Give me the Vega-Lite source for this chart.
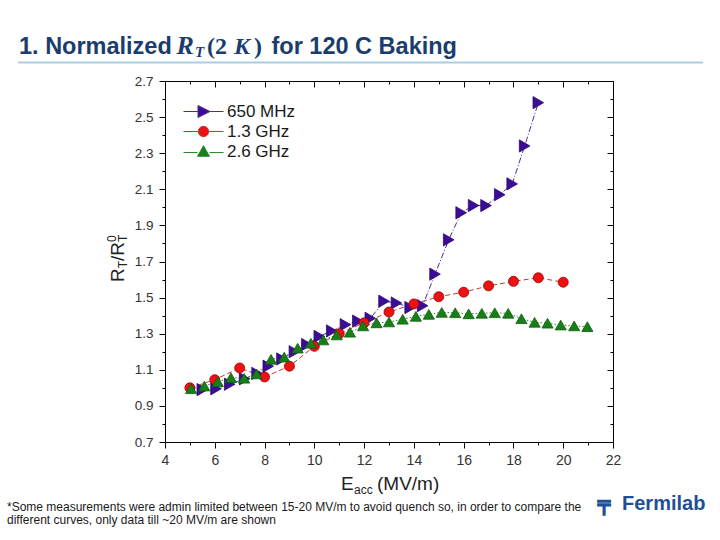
{
  "$schema": "https://vega.github.io/schema/vega-lite/v6.json",
  "width": 448,
  "height": 361,
  "autosize": {"type": "none"},
  "padding": {"left": 165, "top": 81, "right": 107, "bottom": 98},
  "background": "white",
  "config": {"view": {"stroke": null}, "font": "Liberation Sans"},
  "datasets": {
    "curves": [
      {"series": "650 MHz", "E": 5.5, "R": 0.99},
      {"series": "650 MHz", "E": 6.05, "R": 0.995},
      {"series": "650 MHz", "E": 6.6, "R": 1.02},
      {"series": "650 MHz", "E": 7.2, "R": 1.05},
      {"series": "650 MHz", "E": 7.7, "R": 1.08},
      {"series": "650 MHz", "E": 8.15, "R": 1.12},
      {"series": "650 MHz", "E": 8.7, "R": 1.16},
      {"series": "650 MHz", "E": 9.2, "R": 1.2},
      {"series": "650 MHz", "E": 9.7, "R": 1.24},
      {"series": "650 MHz", "E": 10.2, "R": 1.285},
      {"series": "650 MHz", "E": 10.7, "R": 1.315},
      {"series": "650 MHz", "E": 11.25, "R": 1.35},
      {"series": "650 MHz", "E": 11.75, "R": 1.37},
      {"series": "650 MHz", "E": 12.25, "R": 1.385},
      {"series": "650 MHz", "E": 12.8, "R": 1.48},
      {"series": "650 MHz", "E": 13.3, "R": 1.47},
      {"series": "650 MHz", "E": 13.85, "R": 1.445},
      {"series": "650 MHz", "E": 14.35, "R": 1.455},
      {"series": "650 MHz", "E": 14.85, "R": 1.63},
      {"series": "650 MHz", "E": 15.4, "R": 1.82},
      {"series": "650 MHz", "E": 15.9, "R": 1.97},
      {"series": "650 MHz", "E": 16.4, "R": 2.01},
      {"series": "650 MHz", "E": 16.9, "R": 2.01},
      {"series": "650 MHz", "E": 17.45, "R": 2.07},
      {"series": "650 MHz", "E": 17.95, "R": 2.13},
      {"series": "650 MHz", "E": 18.45, "R": 2.34},
      {"series": "650 MHz", "E": 19.0, "R": 2.58},
      {"series": "1.3 GHz", "E": 5, "R": 1.0},
      {"series": "1.3 GHz", "E": 6, "R": 1.045},
      {"series": "1.3 GHz", "E": 7, "R": 1.11},
      {"series": "1.3 GHz", "E": 8, "R": 1.06},
      {"series": "1.3 GHz", "E": 9, "R": 1.12},
      {"series": "1.3 GHz", "E": 10, "R": 1.23},
      {"series": "1.3 GHz", "E": 11, "R": 1.3},
      {"series": "1.3 GHz", "E": 12, "R": 1.36},
      {"series": "1.3 GHz", "E": 13, "R": 1.42},
      {"series": "1.3 GHz", "E": 14, "R": 1.465},
      {"series": "1.3 GHz", "E": 15, "R": 1.505},
      {"series": "1.3 GHz", "E": 16, "R": 1.53},
      {"series": "1.3 GHz", "E": 17, "R": 1.565},
      {"series": "1.3 GHz", "E": 18, "R": 1.59},
      {"series": "1.3 GHz", "E": 19, "R": 1.61},
      {"series": "1.3 GHz", "E": 20, "R": 1.585},
      {"series": "2.6 GHz", "E": 5.05, "R": 0.995},
      {"series": "2.6 GHz", "E": 5.58, "R": 1.01},
      {"series": "2.6 GHz", "E": 6.12, "R": 1.034},
      {"series": "2.6 GHz", "E": 6.65, "R": 1.056},
      {"series": "2.6 GHz", "E": 7.18, "R": 1.053},
      {"series": "2.6 GHz", "E": 7.68, "R": 1.077},
      {"series": "2.6 GHz", "E": 8.26, "R": 1.158},
      {"series": "2.6 GHz", "E": 8.79, "R": 1.17},
      {"series": "2.6 GHz", "E": 9.33, "R": 1.22},
      {"series": "2.6 GHz", "E": 9.86, "R": 1.247},
      {"series": "2.6 GHz", "E": 10.36, "R": 1.265},
      {"series": "2.6 GHz", "E": 10.9, "R": 1.293},
      {"series": "2.6 GHz", "E": 11.43, "R": 1.308},
      {"series": "2.6 GHz", "E": 11.96, "R": 1.343},
      {"series": "2.6 GHz", "E": 12.5, "R": 1.36},
      {"series": "2.6 GHz", "E": 13.0, "R": 1.365},
      {"series": "2.6 GHz", "E": 13.55, "R": 1.38},
      {"series": "2.6 GHz", "E": 14.08, "R": 1.396},
      {"series": "2.6 GHz", "E": 14.6, "R": 1.407},
      {"series": "2.6 GHz", "E": 15.12, "R": 1.418},
      {"series": "2.6 GHz", "E": 15.66, "R": 1.416},
      {"series": "2.6 GHz", "E": 16.2, "R": 1.41},
      {"series": "2.6 GHz", "E": 16.73, "R": 1.413},
      {"series": "2.6 GHz", "E": 17.25, "R": 1.416},
      {"series": "2.6 GHz", "E": 17.79, "R": 1.413},
      {"series": "2.6 GHz", "E": 18.32, "R": 1.383},
      {"series": "2.6 GHz", "E": 18.85, "R": 1.363},
      {"series": "2.6 GHz", "E": 19.37, "R": 1.358},
      {"series": "2.6 GHz", "E": 19.9, "R": 1.348},
      {"series": "2.6 GHz", "E": 20.44, "R": 1.343},
      {"series": "2.6 GHz", "E": 20.97, "R": 1.339}
    ]
  },
  "resolve": {"axis": {"x": "independent", "y": "independent"}},
  "layer": [
    {
      "data": {"name": "curves"},
      "mark": {"type": "line", "strokeWidth": 1},
      "encoding": {
        "x": {"field": "E", "type": "quantitative", "scale": {"domain": [4, 22], "nice": false, "zero": false},
          "axis": {"orient": "bottom", "title": null, "values": [4,5,6,7,8,9,10,11,12,13,14,15,16,17,18,19,20,21,22],
            "labelExpr": "datum.value % 2 == 0 ? datum.label : ''",
            "tickSize": {"condition": {"test": "datum.value % 2 == 0", "value": 6}, "value": 3},
            "labelFont": "Liberation Sans", "labelFontSize": 14, "labelColor": "#333333", "labelPadding": 5,
            "domainColor": "#000000", "tickColor": "#000000", "domainWidth": 1, "tickWidth": 1, "grid": false, "labelOverlap": false, "labelFlush": false}},
        "y": {"field": "R", "type": "quantitative", "scale": {"domain": [0.7, 2.7], "nice": false, "zero": false},
          "axis": {"orient": "left", "title": null, "values": [0.7,0.8,0.9,1.0,1.1,1.2,1.3,1.4,1.5,1.6,1.7,1.8,1.9,2.0,2.1,2.2,2.3,2.4,2.5,2.6,2.7],
            "labelExpr": "round(datum.value*10) % 2 == 1 ? format(datum.value, '.1f') : ''",
            "tickSize": {"condition": {"test": "round(datum.value*10) % 2 == 1", "value": 6}, "value": 3},
            "labelFont": "Liberation Sans", "labelFontSize": 13.5, "labelColor": "#333333", "labelPadding": 6,
            "domainColor": "#000000", "tickColor": "#000000", "domainWidth": 1, "tickWidth": 1, "grid": false, "labelOverlap": false, "labelFlush": false}},
        "color": {"field": "series", "type": "nominal", "scale": {"range": ["#c03a3a", "#2a8a2a", "#4b2b9c"]}, "legend": null},
        "strokeDash": {"field": "series", "type": "nominal", "scale": {"range": [[5, 3], [1.5, 2], [6, 2, 1, 2]]}, "legend": null}
      }
    },
    {
      "data": {"name": "curves"},
      "mark": {"type": "point", "filled": true, "strokeWidth": 0.8, "opacity": 1},
      "encoding": {
        "x": {"field": "E", "type": "quantitative", "scale": {"domain": [4, 22], "nice": false, "zero": false},
          "axis": {"orient": "top", "title": null, "labels": false, "values": [4,5,6,7,8,9,10,11,12,13,14,15,16,17,18,19,20,21,22],
            "tickSize": {"condition": {"test": "datum.value % 2 == 0", "value": -6}, "value": -3},
            "domainColor": "#000000", "tickColor": "#000000", "domainWidth": 1, "tickWidth": 1, "grid": false}},
        "y": {"field": "R", "type": "quantitative", "scale": {"domain": [0.7, 2.7], "nice": false, "zero": false},
          "axis": {"orient": "right", "title": null, "labels": false, "values": [0.7,0.8,0.9,1.0,1.1,1.2,1.3,1.4,1.5,1.6,1.7,1.8,1.9,2.0,2.1,2.2,2.3,2.4,2.5,2.6,2.7],
            "tickSize": {"condition": {"test": "round(datum.value*10) % 2 == 1", "value": -6}, "value": -3},
            "domainColor": "#000000", "tickColor": "#000000", "domainWidth": 1, "tickWidth": 1, "grid": false}},
        "fill": {"field": "series", "type": "nominal", "scale": {"domain": ["650 MHz", "1.3 GHz", "2.6 GHz"], "range": ["#3b0d96", "#ee1111", "#187f18"]},
          "legend": {"orient": "none", "legendX": 28, "legendY": 20, "title": null, "padding": 0, "rowPadding": 1,
            "symbolSize": 400, "symbolStrokeWidth": 1, "labelFont": "Liberation Sans", "labelFontSize": 17, "labelColor": "#1a1a1a", "labelOffset": 13,
            "encoding": {"symbols": {
              "shape": {"value": {"expr": "datum.value === '650 MHz' ? 'M-2,0H-0.55M0.65,0H2M-0.55,-0.6L0.65,0L-0.55,0.6Z' : datum.value === '1.3 GHz' ? 'M-2,0H-0.52M0.52,0H2M-0.52,0A0.52,0.52,0,1,1,0.52,0A0.52,0.52,0,1,1,-0.52,0Z' : 'M-2,0.1H-0.6M0.6,0.1H2M-0.6,0.48L0,-0.58L0.6,0.48Z'"}},
              "stroke": {"value": {"expr": "datum.value === '650 MHz' ? '#4b2b9c' : datum.value === '1.3 GHz' ? '#c03a3a' : '#2a8a2a'"}},
              "strokeWidth": {"value": 1},
              "size": {"value": 400}
            }}}},
        "stroke": {"field": "series", "type": "nominal", "scale": {"range": ["#9a0000", "#0e5e0e", "#2c0a70"]}, "legend": null},
        "shape": {"field": "series", "type": "nominal", "scale": {"range": ["circle", "triangle-up", "triangle-right"]}, "legend": null},
        "size": {"field": "series", "type": "nominal", "scale": {"range": [100, 150, 150]}, "legend": null}
      }
    },
    {
      "data": {"values": [{}]},
      "mark": {"type": "rule", "color": "#a8cde6", "strokeWidth": 2},
      "encoding": {
        "x": {"datum": -1.906, "type": "quantitative", "scale": {"domain": [4, 22], "nice": false, "zero": false}, "axis": null},
        "x2": {"datum": 25.616},
        "y": {"datum": 2.8025, "type": "quantitative", "scale": {"domain": [0.7, 2.7], "nice": false, "zero": false}, "axis": null}
      }
    },
    {
      "data": {"values": [{}]},
      "mark": {"type": "text", "align": "left", "baseline": "alphabetic", "font": "Liberation Sans", "fontSize": 23.5, "fontWeight": "bold", "color": "#1a3c6e"},
      "encoding": {
        "x": {"datum": -1.866, "type": "quantitative", "scale": {"domain": [4, 22], "nice": false, "zero": false}, "axis": null},
        "y": {"datum": 2.8512, "type": "quantitative", "scale": {"domain": [0.7, 2.7], "nice": false, "zero": false}, "axis": null},
        "text": {"value": "1. Normalized"}
      }
    },
    {
      "data": {"values": [{}]},
      "mark": {"type": "text", "align": "left", "baseline": "alphabetic", "font": "Liberation Serif", "fontSize": 26, "fontWeight": "bold", "fontStyle": "italic", "color": "#1a3c6e"},
      "encoding": {
        "x": {"datum": 4.462, "type": "quantitative", "scale": {"domain": [4, 22], "nice": false, "zero": false}, "axis": null},
        "y": {"datum": 2.8512, "type": "quantitative", "scale": {"domain": [0.7, 2.7], "nice": false, "zero": false}, "axis": null},
        "text": {"value": "R"}
      }
    },
    {
      "data": {"values": [{}]},
      "mark": {"type": "text", "align": "left", "baseline": "alphabetic", "font": "Liberation Serif", "fontSize": 15, "fontWeight": "bold", "fontStyle": "italic", "color": "#1a3c6e"},
      "encoding": {
        "x": {"datum": 5.205, "type": "quantitative", "scale": {"domain": [4, 22], "nice": false, "zero": false}, "axis": null},
        "y": {"datum": 2.8302, "type": "quantitative", "scale": {"domain": [0.7, 2.7], "nice": false, "zero": false}, "axis": null},
        "text": {"value": "T"}
      }
    },
    {
      "data": {"values": [{}]},
      "mark": {"type": "text", "align": "left", "baseline": "alphabetic", "font": "Liberation Serif", "fontSize": 24, "fontWeight": "bold", "color": "#1a3c6e"},
      "encoding": {
        "x": {"datum": 5.6875, "type": "quantitative", "scale": {"domain": [4, 22], "nice": false, "zero": false}, "axis": null},
        "y": {"datum": 2.8512, "type": "quantitative", "scale": {"domain": [0.7, 2.7], "nice": false, "zero": false}, "axis": null},
        "text": {"value": "(2"}
      }
    },
    {
      "data": {"values": [{}]},
      "mark": {"type": "text", "align": "left", "baseline": "alphabetic", "font": "Liberation Serif", "fontSize": 24, "fontWeight": "bold", "fontStyle": "italic", "color": "#1a3c6e"},
      "encoding": {
        "x": {"datum": 6.773, "type": "quantitative", "scale": {"domain": [4, 22], "nice": false, "zero": false}, "axis": null},
        "y": {"datum": 2.8512, "type": "quantitative", "scale": {"domain": [0.7, 2.7], "nice": false, "zero": false}, "axis": null},
        "text": {"value": "K"}
      }
    },
    {
      "data": {"values": [{}]},
      "mark": {"type": "text", "align": "left", "baseline": "alphabetic", "font": "Liberation Serif", "fontSize": 24, "fontWeight": "bold", "color": "#1a3c6e"},
      "encoding": {
        "x": {"datum": 7.576, "type": "quantitative", "scale": {"domain": [4, 22], "nice": false, "zero": false}, "axis": null},
        "y": {"datum": 2.8512, "type": "quantitative", "scale": {"domain": [0.7, 2.7], "nice": false, "zero": false}, "axis": null},
        "text": {"value": ")"}
      }
    },
    {
      "data": {"values": [{}]},
      "mark": {"type": "text", "align": "left", "baseline": "alphabetic", "font": "Liberation Sans", "fontSize": 23.5, "fontWeight": "bold", "color": "#1a3c6e"},
      "encoding": {
        "x": {"datum": 8.279, "type": "quantitative", "scale": {"domain": [4, 22], "nice": false, "zero": false}, "axis": null},
        "y": {"datum": 2.8512, "type": "quantitative", "scale": {"domain": [0.7, 2.7], "nice": false, "zero": false}, "axis": null},
        "text": {"value": "for 120 C Baking"}
      }
    },
    {
      "data": {"values": [{}]},
      "mark": {"type": "text", "align": "left", "baseline": "alphabetic", "font": "Liberation Sans", "fontSize": 19, "color": "#222222"},
      "encoding": {
        "x": {"datum": 11.071, "type": "quantitative", "scale": {"domain": [4, 22], "nice": false, "zero": false}, "axis": null},
        "y": {"datum": 0.4341, "type": "quantitative", "scale": {"domain": [0.7, 2.7], "nice": false, "zero": false}, "axis": null},
        "text": {"value": "E"}
      }
    },
    {
      "data": {"values": [{}]},
      "mark": {"type": "text", "align": "left", "baseline": "alphabetic", "font": "Liberation Sans", "fontSize": 12, "color": "#222222"},
      "encoding": {
        "x": {"datum": 11.594, "type": "quantitative", "scale": {"domain": [4, 22], "nice": false, "zero": false}, "axis": null},
        "y": {"datum": 0.4119, "type": "quantitative", "scale": {"domain": [0.7, 2.7], "nice": false, "zero": false}, "axis": null},
        "text": {"value": "acc"}
      }
    },
    {
      "data": {"values": [{}]},
      "mark": {"type": "text", "align": "left", "baseline": "alphabetic", "font": "Liberation Sans", "fontSize": 19, "color": "#222222"},
      "encoding": {
        "x": {"datum": 12.518, "type": "quantitative", "scale": {"domain": [4, 22], "nice": false, "zero": false}, "axis": null},
        "y": {"datum": 0.4341, "type": "quantitative", "scale": {"domain": [0.7, 2.7], "nice": false, "zero": false}, "axis": null},
        "text": {"value": "(MV/m)"}
      }
    },
    {
      "data": {"values": [{}]},
      "mark": {"type": "text", "align": "left", "baseline": "alphabetic", "angle": 270, "font": "Liberation Sans", "fontSize": 19, "color": "#222222"},
      "encoding": {
        "x": {"datum": 2.353, "type": "quantitative", "scale": {"domain": [4, 22], "nice": false, "zero": false}, "axis": null},
        "y": {"datum": 1.5864, "type": "quantitative", "scale": {"domain": [0.7, 2.7], "nice": false, "zero": false}, "axis": null},
        "text": {"value": "R"}
      }
    },
    {
      "data": {"values": [{}]},
      "mark": {"type": "text", "align": "left", "baseline": "alphabetic", "angle": 270, "font": "Liberation Sans", "fontSize": 12, "color": "#222222"},
      "encoding": {
        "x": {"datum": 2.473, "type": "quantitative", "scale": {"domain": [4, 22], "nice": false, "zero": false}, "axis": null},
        "y": {"datum": 1.6623, "type": "quantitative", "scale": {"domain": [0.7, 2.7], "nice": false, "zero": false}, "axis": null},
        "text": {"value": "T"}
      }
    },
    {
      "data": {"values": [{}]},
      "mark": {"type": "text", "align": "left", "baseline": "alphabetic", "angle": 270, "font": "Liberation Sans", "fontSize": 19, "color": "#222222"},
      "encoding": {
        "x": {"datum": 2.353, "type": "quantitative", "scale": {"domain": [4, 22], "nice": false, "zero": false}, "axis": null},
        "y": {"datum": 1.7028, "type": "quantitative", "scale": {"domain": [0.7, 2.7], "nice": false, "zero": false}, "axis": null},
        "text": {"value": "/R"}
      }
    },
    {
      "data": {"values": [{}]},
      "mark": {"type": "text", "align": "left", "baseline": "alphabetic", "angle": 270, "font": "Liberation Sans", "fontSize": 12, "color": "#222222"},
      "encoding": {
        "x": {"datum": 2.473, "type": "quantitative", "scale": {"domain": [4, 22], "nice": false, "zero": false}, "axis": null},
        "y": {"datum": 1.808, "type": "quantitative", "scale": {"domain": [0.7, 2.7], "nice": false, "zero": false}, "axis": null},
        "text": {"value": "T"}
      }
    },
    {
      "data": {"values": [{}]},
      "mark": {"type": "text", "align": "left", "baseline": "alphabetic", "angle": 270, "font": "Liberation Sans", "fontSize": 12, "color": "#222222"},
      "encoding": {
        "x": {"datum": 2.031, "type": "quantitative", "scale": {"domain": [4, 22], "nice": false, "zero": false}, "axis": null},
        "y": {"datum": 1.808, "type": "quantitative", "scale": {"domain": [0.7, 2.7], "nice": false, "zero": false}, "axis": null},
        "text": {"value": "0"}
      }
    },
    {
      "data": {"values": [{}]},
      "mark": {"type": "text", "align": "left", "baseline": "alphabetic", "font": "Liberation Sans", "fontSize": 12, "lineHeight": 13, "color": "#1a1a1a"},
      "encoding": {
        "x": {"datum": -2.348, "type": "quantitative", "scale": {"domain": [4, 22], "nice": false, "zero": false}, "axis": null},
        "y": {"datum": 0.3177, "type": "quantitative", "scale": {"domain": [0.7, 2.7], "nice": false, "zero": false}, "axis": null},
        "text": {"value": ["*Some measurements were admin limited between 15-20 MV/m to avoid quench so, in order to compare the", "different curves, only data till ~20 MV/m are shown"]}
      }
    },
    {
      "data": {"values": [{}]},
      "mark": {"type": "text", "align": "left", "baseline": "alphabetic", "font": "DejaVu Sans", "fontSize": 20, "fontWeight": "bold", "color": "#1f4f96", "stroke": "#1f4f96", "strokeWidth": 1.5},
      "encoding": {
        "x": {"datum": 21.397, "type": "quantitative", "scale": {"domain": [4, 22], "nice": false, "zero": false}, "axis": null},
        "y": {"datum": 0.3233, "type": "quantitative", "scale": {"domain": [0.7, 2.7], "nice": false, "zero": false}, "axis": null},
        "text": {"value": "╤"}
      }
    },
    {
      "data": {"values": [{}]},
      "mark": {"type": "text", "align": "left", "baseline": "alphabetic", "font": "Liberation Sans", "fontSize": 20, "fontWeight": "bold", "color": "#1f4f96"},
      "encoding": {
        "x": {"datum": 22.362, "type": "quantitative", "scale": {"domain": [4, 22], "nice": false, "zero": false}, "axis": null},
        "y": {"datum": 0.3233, "type": "quantitative", "scale": {"domain": [0.7, 2.7], "nice": false, "zero": false}, "axis": null},
        "text": {"value": "Fermilab"}
      }
    }
  ]
}
